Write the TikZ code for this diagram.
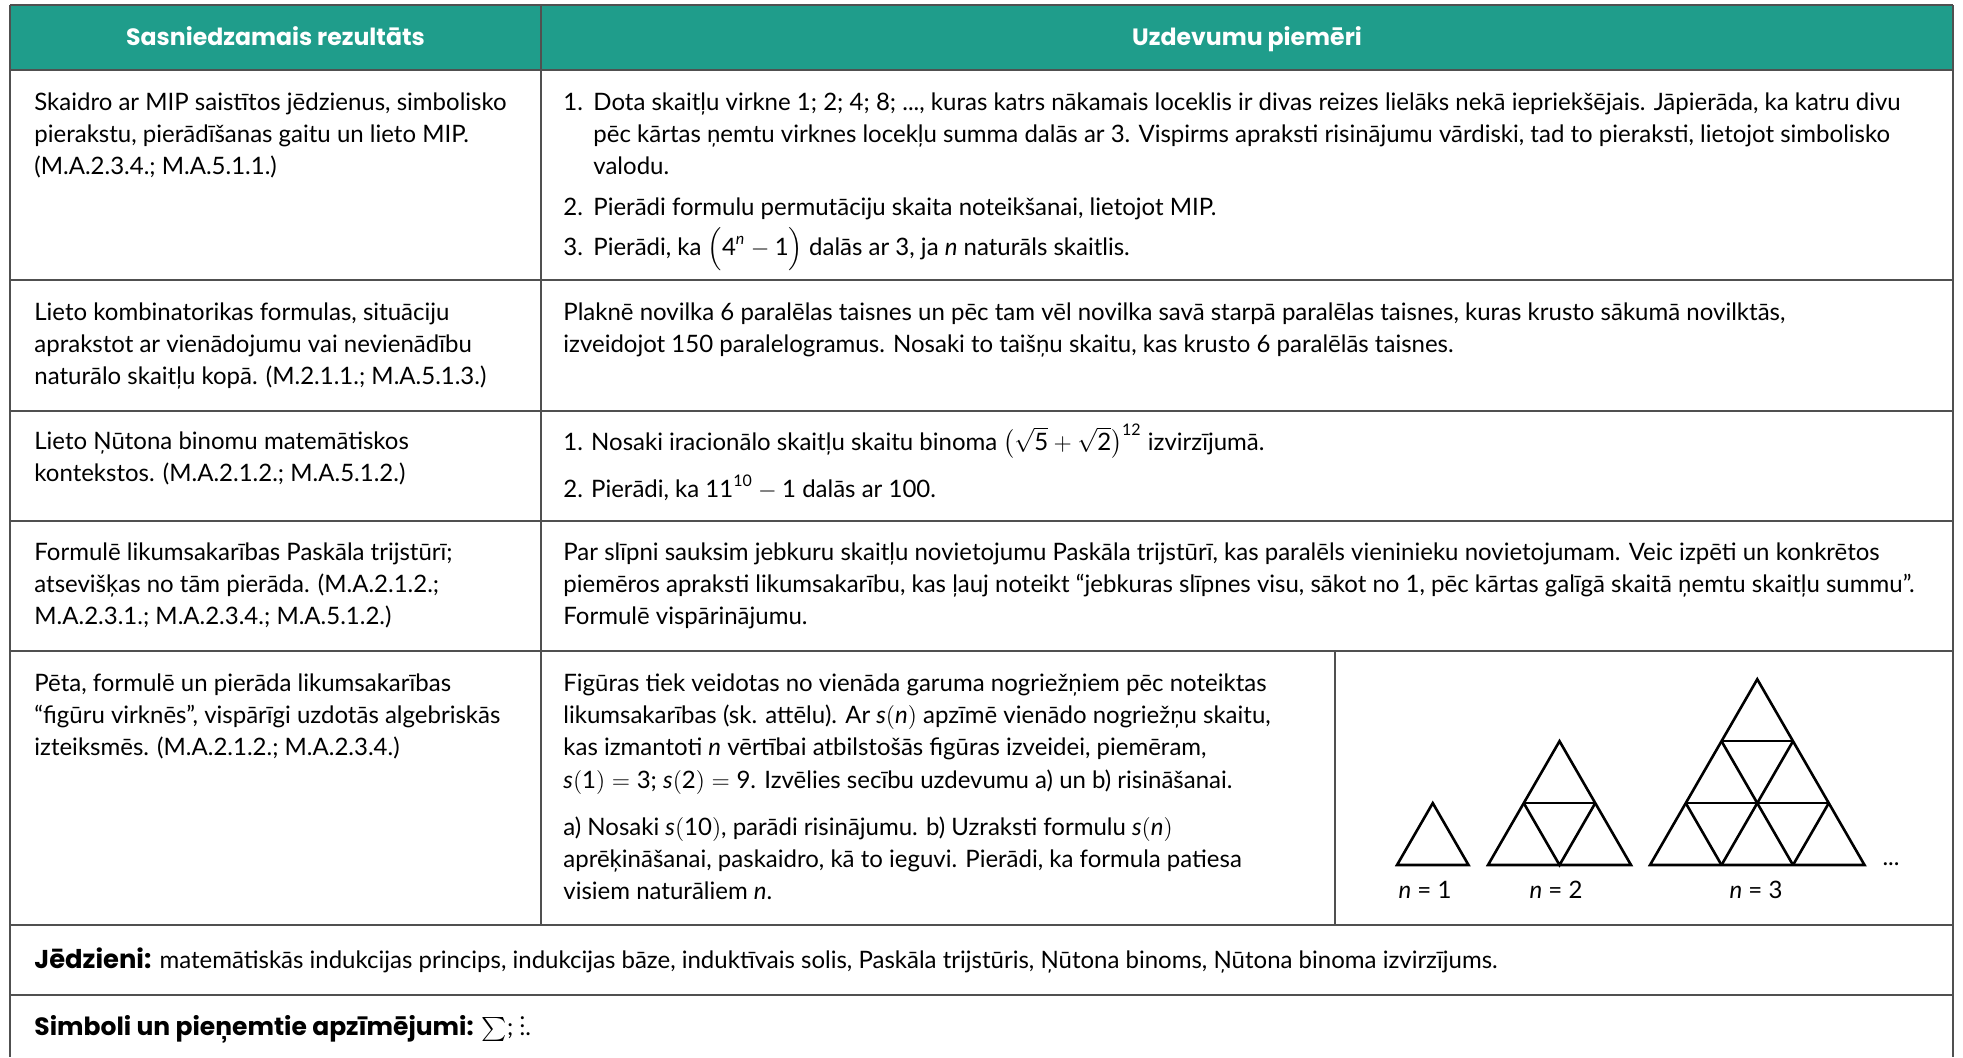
\documentclass[tikz,border=0pt]{standalone}
\usepackage{amsmath}
\usepackage{amssymb}
\usepackage{fontspec}
\setmainfont{Lato}
\newfontfamily\headfont{Poppins}
\definecolor{headteal}{RGB}{31,157,139}
\definecolor{gridgray}{RGB}{80,80,80}

\begin{document}
\begin{tikzpicture}[x=0.5pt,y=-0.5pt,
    gridline/.style={draw=gridgray,line width=1pt},
    headtxt/.style={inner sep=0,anchor=base,text=white,font=\headfont\bfseries\fontsize{11.8}{16}\selectfont},
    celltxt/.style={inner sep=0,anchor=north west,align=left,font=\fontsize{12}{16.2}\selectfont},
    lonetxt/.style={inner sep=0,anchor=base west,font=\fontsize{12}{16.2}\selectfont},
    figlabel/.style={inner sep=0,anchor=base,font=\fontsize{12}{16}\selectfont},
    trifig/.style={line width=1.3pt,line join=miter}]
        \useasboundingbox (0,0) rectangle (1963,1057);
        \fill[headteal] (10,5) rectangle (1953,70);
        % table rules
        \draw[gridline] (10,5) -- (1953,5);
        \draw[gridline] (10,70) -- (1953,70);
        \draw[gridline] (10,280) -- (1953,280);
        \draw[gridline] (10,411) -- (1953,411);
        \draw[gridline] (10,521) -- (1953,521);
        \draw[gridline] (10,651) -- (1953,651);
        \draw[gridline] (10,925) -- (1953,925);
        \draw[gridline] (10,995) -- (1953,995);
        \draw[gridline] (10,5) -- (10,1057);
        \draw[gridline] (1953,5) -- (1953,1057);
        \draw[gridline] (541,5) -- (541,925);
        \draw[gridline] (1335,651) -- (1335,925);
        % header
        \node[headtxt] (hres) at (275.5,45) {Sasniedzamais rezultāts};
        \node[headtxt] (hex) at (1247,45) {Uzdevumu piemēri};
        % row 1
        \node[celltxt] (res1) at (34,87) {\strut Skaidro ar MIP saistītos jēdzienus, simbolisko\\
            pierakstu, pierādīšanas gaitu un lieto MIP.\\
            (M.A.2.3.4.; M.A.5.1.1.)};
        \node[celltxt] (num11) at (563,87) {\strut 1.};
        \node[celltxt] (ex11) at (593,87) {\strut Dota skaitļu virkne 1; 2; 4; 8; ..., kuras katrs nākamais loceklis ir divas reizes lielāks nekā iepriekšējais. Jāpierāda, ka katru divu\\
            pēc kārtas ņemtu virknes locekļu summa dalās ar 3. Vispirms apraksti risinājumu vārdiski, tad to pieraksti, lietojot simbolisko\\
            valodu.};
        \node[lonetxt] (num12) at (563,215.5) {2.};
        \node[lonetxt] (ex12) at (593,215.5) {Pierādi formulu permutāciju skaita noteikšanai, lietojot MIP.};
        \node[lonetxt] (num13) at (563,255.5) {3.};
        \node[lonetxt] (ex13) at (593,255.5) {Pierādi, ka $\Bigl(\text{4}^{\textit{n}}-\text{1}\Bigr)$ dalās ar 3, ja \textit{n} naturāls skaitlis.};
        % row 2
        \node[celltxt] (res2) at (34,297) {\strut Lieto kombinatorikas formulas, situāciju\\
            aprakstot ar vienādojumu vai nevienādību\\
            naturālo skaitļu kopā. (M.2.1.1.; M.A.5.1.3.)};
        \node[celltxt] (ex2) at (563,297) {\strut Plaknē novilka 6 paralēlas taisnes un pēc tam vēl novilka savā starpā paralēlas taisnes, kuras krusto sākumā novilktās,\\
            izveidojot 150 paralelogramus. Nosaki to taišņu skaitu, kas krusto 6 paralēlās taisnes.};
        % row 3
        \node[celltxt] (res3) at (34,426) {\strut Lieto Ņūtona binomu matemātiskos\\
            kontekstos. (M.A.2.1.2.; M.A.5.1.2.)};
        \node[lonetxt] (ex31) at (563,450) {1. Nosaki iracionālo skaitļu skaitu binoma $\bigl(\sqrt{\text{5}}+\sqrt{\text{2}}\bigr)^{\text{12}}$ izvirzījumā.};
        \node[lonetxt] (ex32) at (563,497) {2. Pierādi, ka $\text{11}^{\text{10}}-\text{1}$ dalās ar 100.};
        % row 4
        \node[celltxt] (res4) at (34,537) {\strut Formulē likumsakarības Paskāla trijstūrī;\\
            atsevišķas no tām pierāda. (M.A.2.1.2.;\\
            M.A.2.3.1.; M.A.2.3.4.; M.A.5.1.2.)};
        \node[celltxt] (ex4) at (563,537) {\strut Par slīpni sauksim jebkuru skaitļu novietojumu Paskāla trijstūrī, kas paralēls vieninieku novietojumam. Veic izpēti un konkrētos\\
            piemēros apraksti likumsakarību, kas ļauj noteikt “jebkuras slīpnes visu, sākot no 1, pēc kārtas galīgā skaitā ņemtu skaitļu summu”.\\
            Formulē vispārinājumu.};
        % row 5
        \node[celltxt] (res5) at (34,668) {\strut Pēta, formulē un pierāda likumsakarības\\
            “figūru virknēs”, vispārīgi uzdotās algebriskās\\
            izteiksmēs. (M.A.2.1.2.; M.A.2.3.4.)};
        \node[celltxt] (ex51) at (563,668) {\strut Figūras tiek veidotas no vienāda garuma nogriežņiem pēc noteiktas\\
            likumsakarības (sk. attēlu). Ar $\textit{s}(\textit{n})$ apzīmē vienādo nogriežņu skaitu,\\
            kas izmantoti \textit{n} vērtībai atbilstošās figūras izveidei, piemēram,\\
            $\textit{s}(\text{1})=\text{3}$; $\textit{s}(\text{2})=\text{9}$. Izvēlies secību uzdevumu a) un b) risināšanai.};
        \node[celltxt] (ex52) at (563,812) {\strut a) Nosaki $\textit{s}(\text{10})$, parādi risinājumu. b) Uzraksti formulu $\textit{s}(\textit{n})$\\
            aprēķināšanai, paskaidro, kā to ieguvi. Pierādi, ka formula patiesa\\
            visiem naturāliem \textit{n}.};
        % triangle figures
        \begin{scope}[shift={(1397,865)},x=35.75pt,y={(17.875pt,30.96pt)},trifig]
            \draw (0,0) -- (1,0) -- (0,1) -- cycle;
        \end{scope}
        \begin{scope}[shift={(1488,865)},x=35.75pt,y={(17.875pt,30.96pt)},trifig]
            \draw (0,0) -- (2,0) -- (0,2) -- cycle;
            \draw (0,1) -- (1,1);
            \draw (0,1) -- (1,0) -- (1,1);
        \end{scope}
        \begin{scope}[shift={(1650,865)},x=35.75pt,y={(17.875pt,30.96pt)},trifig]
            \draw (0,0) -- (3,0) -- (0,3) -- cycle;
            \draw (0,1) -- (2,1);
            \draw (0,2) -- (1,2);
            \draw (1,0) -- (1,2);
            \draw (2,0) -- (2,1);
            \draw (1,0) -- (0,1);
            \draw (2,0) -- (0,2);
        \end{scope}
        \node[figlabel] (lab1) at (1425,898) {\textit{n} = 1};
        \node[figlabel] (lab2) at (1556,898) {\textit{n} = 2};
        \node[figlabel] (lab3) at (1756,898) {\textit{n} = 3};
        \node[figlabel] (more) at (1891,865) {...};
        % rows 6 and 7
        \node[lonetxt] (terms) at (34,968) {{\headfont\bfseries\fontsize{12.9}{16}\selectfont Jēdzieni:} matemātiskās indukcijas princips, indukcijas bāze, induktīvais solis, Paskāla trijstūris, Ņūtona binoms, Ņūtona binoma izvirzījums.};
        \node[lonetxt] (symb) at (34,1035) {{\headfont\bfseries\fontsize{12.5}{16}\selectfont Simboli un pieņemtie apzīmējumi:} $\sum$; $\vdots$.};
\end{tikzpicture}
\end{document}
